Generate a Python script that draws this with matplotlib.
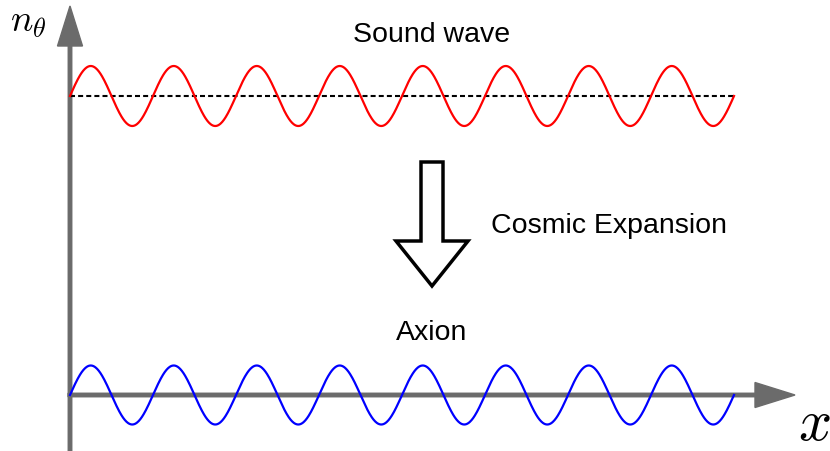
import numpy as np
import matplotlib
matplotlib.use("Agg")
import matplotlib.pyplot as plt
from matplotlib.patches import FancyArrow

plt.rcParams['font.family'] = ['Liberation Sans', 'DejaVu Sans']
plt.rcParams['mathtext.fontset'] = 'cm'

# schematic parameters (pixel units of the 830x452 canvas)
x_start = 70
period = 83
n_periods = 8
sound_base, sound_amp = 97, 30
axion_base, axion_amp = 396, 29.5
axis_gray = '#6b6b6b'

fig = plt.figure(figsize=(8.3, 4.52), dpi=100)
ax = fig.add_axes([0, 0, 1, 1])
ax.set_xlim(0, 830)
ax.set_ylim(452, 0)
ax.axis('off')

x = np.linspace(x_start, x_start + n_periods * period, 1200)
phase = 2 * np.pi * (x - x_start) / period

# axes with arrow heads
ax.add_patch(FancyArrow(70, 455, 0, -448, width=3.5, head_width=25, head_length=40,
                        length_includes_head=True, color=axis_gray, zorder=1))
ax.add_patch(FancyArrow(68, 396, 727, 0, width=3.5, head_width=25, head_length=40,
                        length_includes_head=True, color=axis_gray, zorder=1))

# sound wave + mean level
ax.plot(x, sound_base - sound_amp * np.sin(phase), color='#ff0000', lw=1.6, zorder=3)
ax.plot([x_start, x[-1]], [sound_base, sound_base], color='black', lw=1.5,
        dashes=(2.4, 1.5), zorder=2)

# axion oscillation
ax.plot(x, axion_base - axion_amp * np.sin(phase), color='#0000ff', lw=1.6, zorder=3)

# cosmic expansion block arrow
ax.add_patch(FancyArrow(432, 163, 0, 124, width=22, head_width=72, head_length=45,
                        length_includes_head=True, facecolor='white', edgecolor='black',
                        lw=2.5, joinstyle='miter', zorder=4))

ax.text(432, 35, 'Sound wave', fontsize=20.5, ha='center', va='center')
ax.text(491, 226, 'Cosmic Expansion', fontsize=20.5, ha='left', va='center')
ax.text(432, 333, 'Axion', fontsize=20.5, ha='center', va='center')
ax.text(10, 22, r'$n_\theta$', fontsize=27, ha='left', va='center')
ax.text(798, 425, r'$x$', fontsize=42, ha='left', va='center')

fig.savefig('out.png', dpi=100)
